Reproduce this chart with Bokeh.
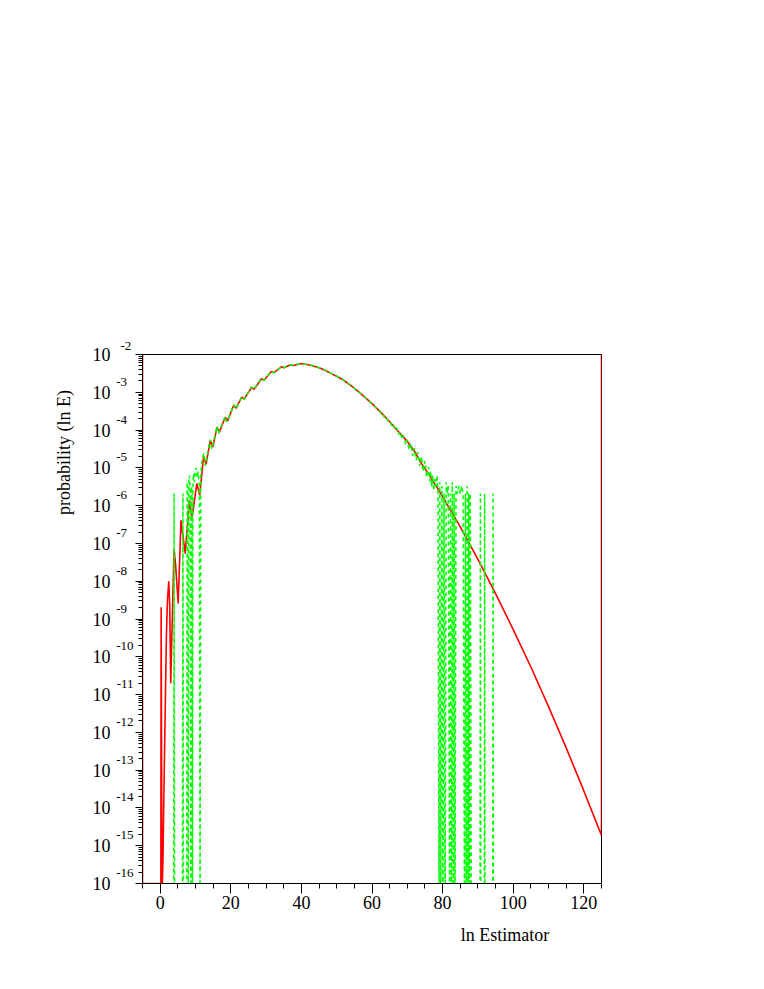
import math
from bokeh.plotting import figure
from bokeh.models import (Range1d, FixedTicker, CustomJSTickFormatter, LogAxis, LinearAxis, Title)
from bokeh.embed import file_html
from bokeh.resources import INLINE

# ---------------- data (log10 of probability) ----------------
red_x = [-5, -5, 0.2, 0.28, 0.5, 0.6, 0.75, 1.13, 1.5, 1.78, 2.07, 2.44, 2.7, 3.0, 3.38,
         3.94, 4.4, 5.1, 5.9, 7.1, 8.3, 9.0, 10.4, 11.2, 12.3, 13.0, 14.2, 14.9, 16.1,
         16.8, 18.4, 19.1, 20.8, 21.5, 23.1, 23.8, 25.9, 26.6, 28.7, 29.4, 31.5, 32.2,
         34.4, 35.0, 37.0, 37.8, 40.0, 41.0, 43.0, 45.6, 48.0, 51.3, 54.0, 56.9, 60.0,
         62.5, 65.0, 67.2, 70.0, 71.9, 74.0, 76.6, 78.5, 80.0, 82.5, 85.0, 90.0, 95.0,
         100.0, 105.0, 110.0, 115.0, 120.0, 125.0, 125.0]
red_log10p = [0, -16, -16, -8.69, -16, -16, -15.6, -13.2, -11.0, -9.4, -8.5, -8.0, -8.6, -10.7, -9.2,
              -7.15, -7.6, -8.59, -6.39, -7.27, -5.86, -6.34, -5.41, -5.73, -4.70, -4.90, -4.28, -4.45, -3.92,
              -4.05, -3.66, -3.75, -3.35, -3.42, -3.13, -3.18, -2.87, -2.92, -2.64, -2.68, -2.45, -2.48,
              -2.32, -2.35, -2.27, -2.29, -2.24, -2.26, -2.29, -2.37, -2.48, -2.64, -2.82, -3.04, -3.30,
              -3.53, -3.78, -4.01, -4.30, -4.54, -4.88, -5.25, -5.53, -5.76, -6.16, -6.56, -7.42, -8.33,
              -9.28, -10.27, -11.32, -12.41, -13.55, -14.73, 0]

# green: sampled histogram, None = empty bin
green_x = [3.8, 3.95, 4.1, 6.3, 6.45, 6.6, 7.5, 7.65, 7.8, 7.95, 8.1, 8.3, 8.5, 8.7, 8.85, 9.0, 9.15,
           9.3, 9.5, 9.7, 9.9, 10.2, 10.5, 10.8, 11.1, 11.3, 11.5, 11.8, 12.1, 12.4, 12.8, 13.2, 13.6,
           14.2, 14.6, 15.0, 15.5, 16.1, 16.5, 16.9, 17.5, 18.4, 18.8, 19.2, 20.0, 20.8, 21.5, 22.3,
           23.1, 23.8, 24.8, 25.9, 26.6, 27.6, 28.7, 29.4, 30.4, 31.5, 32.2, 33.3, 34.4, 35.0, 36.0,
           37.0, 37.8, 39.0, 40.0, 41.0, 42.0, 43.0, 44.3, 45.6, 47.0, 48.0, 49.6, 51.3, 52.6, 54.0,
           55.5, 56.9, 58.5, 60.0, 61.0, 62.0, 62.5, 63.0, 63.5, 64.0, 64.5, 65.0, 65.5, 66.0, 66.5,
           67.0, 67.5, 68.0, 68.5, 69.0, 69.5, 70.0, 70.5, 71.0, 71.5, 72.0, 72.5, 73.0, 73.5, 74.0,
           74.5, 75.0, 75.5, 76.0, 76.3, 76.6, 76.9, 77.2, 77.5, 77.8, 78.1, 78.4, 78.7, 79.0, 79.2,
           79.5, 79.8, 80.1, 80.4, 80.7, 81.0, 81.3, 81.6, 82.0, 82.2, 82.5, 82.75, 83.0, 83.25, 83.5,
           83.8, 84.2, 84.6, 85.0, 85.4, 85.8, 86.2, 86.45, 86.7, 86.95, 87.2, 87.4, 87.6, 87.85, 88.1,
           90.6, 90.7, 90.8, 91.8, 91.9, 92.0, 94.2, 94.3, 94.4]
green_log10p = [None, -5.68, None, None, -5.68, None, None, -5.38, -5.68, None, -5.38, -5.2, -5.68, None,
                -5.5, -5.68, None,
                -5.38, -5.15, -5.38, -5.1, -5.0, -5.25, -5.1, -5.45, None, -5.2, -4.85, -4.7, -4.62, -4.95,
                -4.75, -4.5,
                -4.25, -4.5, -4.35, -4.15, -3.9, -4.1, -4.0, -3.85, -3.64, -3.78, -3.72, -3.55, -3.33,
                -3.44, -3.28,
                -3.12, -3.19, -3.02, -2.86, -2.93, -2.77, -2.63, -2.69, -2.56, -2.45, -2.49, -2.40, -2.32,
                -2.35, -2.30,
                -2.27, -2.29, -2.25, -2.24, -2.26, -2.26, -2.29, -2.33, -2.37, -2.42, -2.48, -2.55, -2.64,
                -2.72, -2.82,
                -2.93, -3.04, -3.17, -3.31, -3.40, -3.47, -3.56, -3.55, -3.67, -3.64, -3.76, -3.74, -3.88,
                -3.83, -3.99,
                -3.94, -4.12, -4.04, -4.24, -4.15, -4.38, -4.26, -4.52, -4.37, -4.68, -4.48, -4.80, -4.58,
                -4.95, -4.70,
                -5.10, -4.82, -5.25, -4.98, -5.35, -5.08, -5.50, -5.20, -5.60, -5.30, -5.48, -5.20, -5.68,
                None, -5.38,
                None, -5.48, None, -5.68, None, -5.38, -5.68, -5.48, None, -5.68, None, -5.38, None, -5.68,
                None,
                -5.48, -5.68, -5.48, -5.68, -5.48, -5.68, None, -5.68, None, -5.48, None, -5.68, None,
                -5.68, None,
                None, -5.68, None, None, -5.68, None, None, -5.68, None]

x_major_ticks = [0, 20, 40, 60, 80, 100, 120]
x_minor_ticks = [-5, 5, 10, 15, 25, 30, 35, 45, 50, 55, 65, 70, 75, 85, 90, 95, 105, 110, 115, 125]
y_exponents = list(range(-16, -1))
x_title = "ln Estimator"
y_title = "probability (ln E)"

EMPTY_BIN = -17  # below the plotted range (log of zero)

red_p = [10 ** v for v in red_log10p]
green_p = [10 ** (EMPTY_BIN if v is None else v) for v in green_log10p]

FONT = "Liberation Serif"
FRAME_W, FRAME_H = 459, 529
Y_LO, Y_HI = y_exponents[0], y_exponents[-1]
PX_PER_DECADE = FRAME_H / (Y_HI - Y_LO)
NBSP = "\u00a0"


def exp_text(e):
    s = str(e)
    return s + NBSP * (2 * (3 - len(s)))   # pad so exponents line up on their left edge


p = figure(width=748, height=965, output_backend="svg", toolbar_location=None, title=None,
           y_axis_type="log", x_range=Range1d(-5, 125), y_range=Range1d(10.0 ** Y_LO, 10.0 ** Y_HI),
           min_border_left=142, min_border_right=147, min_border_top=354, min_border_bottom=82)
p.background_fill_color = "white"
p.border_fill_color = "white"
p.outline_line_color = "black"
p.outline_line_width = 1
p.xgrid.visible = False
p.ygrid.visible = False

p.line(red_x, red_p, line_color="#ff0000", line_width=1.6)
p.line(green_x, green_p, line_color="#00ff00", line_width=1.5, line_dash="4 3")

# x axis
xa = p.xaxis[0]
xa.ticker = FixedTicker(ticks=x_major_ticks, minor_ticks=x_minor_ticks)
xa.major_tick_out = 10
xa.major_tick_in = 0
xa.minor_tick_out = 5
xa.minor_tick_in = 0
xa.axis_line_color = "black"
xa.major_label_text_font = FONT
xa.major_label_text_font_size = "18px"
xa.major_label_text_color = "black"
xa.major_label_standoff = 2

# x title as a single-tick axis (placed right of centre as in the original)
xt = LinearAxis(ticker=FixedTicker(ticks=[97.7], minor_ticks=[]),
                formatter=CustomJSTickFormatter(code="return %r" % x_title),
                axis_line_color=None, major_tick_line_color=None, minor_tick_line_color=None,
                major_label_text_font=FONT, major_label_text_font_size="18px",
                major_label_text_color="black", major_label_standoff=7)
p.add_layout(xt, "below")

# y axis: tick marks only
ya = p.yaxis[0]
ya.ticker = FixedTicker(ticks=[10.0 ** e for e in y_exponents],
                        minor_ticks=[k * 10.0 ** e for e in y_exponents[:-1] for k in range(2, 10)])
ya.formatter = CustomJSTickFormatter(code="return ''")
ya.major_tick_out = 7
ya.major_tick_in = 0
ya.minor_tick_out = 4
ya.minor_tick_in = 0
ya.major_label_standoff = 0
ya.axis_line_color = "black"

# exponents, raised above each decade tick (the top one falls outside the frame -> title)
EXP_RAISE = 11 / PX_PER_DECADE
exp_labels = {10.0 ** (e + EXP_RAISE): exp_text(e) for e in y_exponents[:-1]}
ye = LogAxis(ticker=FixedTicker(ticks=list(exp_labels.keys()), minor_ticks=[]),
             major_label_overrides=exp_labels,
             axis_line_color=None, major_tick_line_color=None, minor_tick_line_color=None,
             major_label_text_font=FONT, major_label_text_font_size="13px",
             major_label_text_color="black", major_label_standoff=-4)
p.add_layout(ye, "left")

# mantissa "10" at each decade tick
yb = LogAxis(ticker=FixedTicker(ticks=[10.0 ** e for e in y_exponents], minor_ticks=[]),
             formatter=CustomJSTickFormatter(code="return '10'"),
             axis_line_color=None, major_tick_line_color=None, minor_tick_line_color=None,
             major_label_text_font=FONT, major_label_text_font_size="18px",
             major_label_text_color="black", major_label_standoff=-3)
p.add_layout(yb, "left")

# y title as a single-tick axis (placed high, as in the original)
yt = LogAxis(ticker=FixedTicker(ticks=[10.0 ** (Y_HI - 98 / PX_PER_DECADE)], minor_ticks=[]),
             formatter=CustomJSTickFormatter(code="return %r" % y_title),
             axis_line_color=None, major_tick_line_color=None, minor_tick_line_color=None,
             major_label_orientation="vertical",
             major_label_text_font=FONT, major_label_text_font_size="18px",
             major_label_text_color="black", major_label_standoff=10)
p.add_layout(yt, "left")

# the exponent of the top decade sits above the frame: a small title does it
p.add_layout(Title(text=str(Y_HI), align="left", offset=-22, standoff=9,
                   text_font=FONT, text_font_size="13px", text_font_style="normal",
                   text_color="black"), "above")

open("out.html", "w").write(file_html(p, INLINE))
